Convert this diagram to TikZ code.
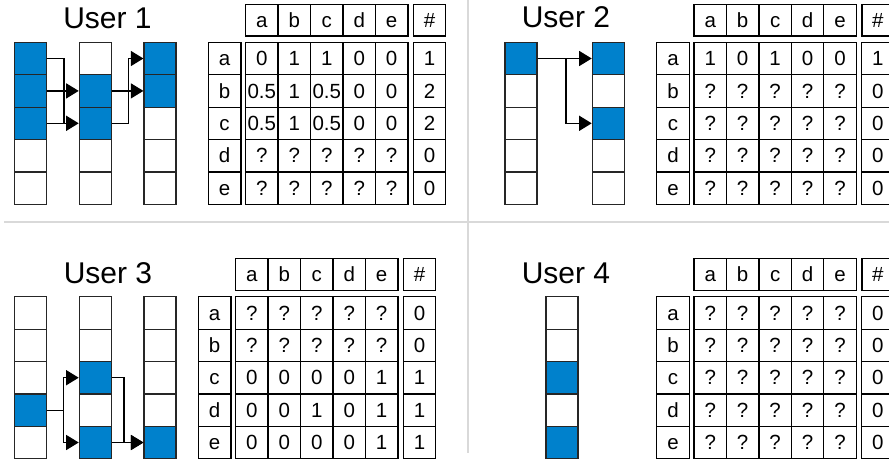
\documentclass[tikz,border=0pt]{standalone}
\usepackage{fontspec}
\setmainfont{Liberation Sans}
\usetikzlibrary{arrows.meta}
\definecolor{ublue}{RGB}{0,129,204}
\definecolor{divgray}{RGB}{217,217,217}
\tikzset{
  scell/.style={draw=black!85, line width=1.2pt, rectangle, inner sep=0pt, minimum width=32pt, minimum height=32.4pt},
  tcell/.style={draw=black, line width=1.2pt, rectangle, inner sep=0pt, minimum width=32.46pt, minimum height=32.4pt,
     font=\fontsize{20.5}{23}\selectfont, text height=14.5pt, text depth=0pt},
  hcell/.style={tcell, minimum height=31.7pt},
  title/.style={font=\fontsize{30}{36}\selectfont, inner sep=0pt, anchor=base},
  line/.style={draw=black, line width=1.2pt},
  conn/.style={line, -{Triangle[length=12.5pt,width=15pt]}},
  divider/.style={draw=divgray, line width=2pt}
}
\newcommand{\stackcol}[4]{%
  \foreach \r in {1,...,5} {\node[scell] (#1\r) at ({#2+16},{#3+32.4*(\r-0.5)}) {};}
  \foreach \r in {#4} {\node[scell,fill=ublue] (#1\r f) at (#1\r) {};}
}
\newcommand{\datatable}[4]{%
  \foreach \h [count=\j] in {a,b,c,d,e} {\node[hcell] (#1h\j) at ({#2+37.3+32.46*(\j-0.5)},{#3-22.15}) {\h};}
  \node[hcell, minimum width=32pt] (#1hs) at ({#2+221.2},{#3-22.15}) {\#};
  \foreach \lab/\vals [count=\i] in {#4} {
    \node[tcell, minimum width=32.6pt] (#1l\i) at ({#2+16.3},{#3+32.4*(\i-0.5)}) {\lab};
    \foreach \v [count=\j] in \vals {
      \pgfmathsetmacro\cx{\j<6 ? (#2+37.3+32.46*(\j-0.5)) : (#2+221.2)}
      \node[tcell] (#1c\i-\j) at (\cx,{#3+32.4*(\i-0.5)}) {\v};
    }
  }
}
\begin{document}
\begin{tikzpicture}[x=1pt,y=-1pt]
\useasboundingbox (0,0) rectangle (889,464);
% dividers
\draw[divider] (4,221.7) -- (889,221.7);
\draw[divider] (468,0) -- (468,453);
% titles
\node[title] (t1) at (107.5,28.3) {User 1};
\node[title] (t2) at (566,27.3) {User 2};
\node[title] (t3) at (108,283) {User 3};
\node[title] (t4) at (566,283) {User 4};
% User 1 stacks
\stackcol{u1a}{14.3}{42.3}{1,2,3}
\stackcol{u1b}{79.3}{42.3}{2,3}
\stackcol{u1c}{144}{42.3}{1,2}
\draw[conn] (u1a1.east) -- ++(17,0) |- (u1b3.west);
\draw[conn] (u1a2.east) -- (u1b2.west);
\draw[line] (u1a3.east) -- ++(17,0);
\draw[conn] (u1b3.east) -- ++(16.4,0) |- (u1c1.west);
\draw[conn] (u1b2.east) -- (u1c2.west);
% User 2 stacks
\stackcol{u2a}{505}{42.3}{1}
\stackcol{u2b}{592.3}{42.3}{1,3}
\draw[conn] (u2a1.east) -- (u2b1.west);
\draw[conn] (u2a1.east) -- ++(28.4,0) |- (u2b3.west);
% User 3 stacks
\stackcol{u3a}{14.3}{296.7}{4}
\stackcol{u3b}{79.3}{296.7}{3,5}
\stackcol{u3c}{144}{296.7}{5}
\draw[conn] (u3a4.east) -- ++(16.4,0) |- (u3b3.west);
\draw[conn] (u3a4.east) -- ++(16.4,0) |- (u3b5.west);
\draw[conn] (u3b3.east) -- ++(12,0) |- (u3c5.west);
\draw[conn] (u3b5.east) -- (u3c5.west);
% User 4 stack
\stackcol{u4a}{546}{296.7}{3,5}
% tables
\datatable{ta}{208.3}{42.3}{a/{0,1,1,0,0,1}, b/{0.5,1,0.5,0,0,2}, c/{0.5,1,0.5,0,0,2}, d/{?,?,?,?,?,0}, e/{?,?,?,?,?,0}}
\datatable{tb}{656.7}{42.3}{a/{1,0,1,0,0,1}, b/{?,?,?,?,?,0}, c/{?,?,?,?,?,0}, d/{?,?,?,?,?,0}, e/{?,?,?,?,?,0}}
\datatable{tc}{198.3}{296.7}{a/{?,?,?,?,?,0}, b/{?,?,?,?,?,0}, c/{0,0,0,0,1,1}, d/{0,0,1,0,1,1}, e/{0,0,0,0,1,1}}
\datatable{td}{656.7}{296.7}{a/{?,?,?,?,?,0}, b/{?,?,?,?,?,0}, c/{?,?,?,?,?,0}, d/{?,?,?,?,?,0}, e/{?,?,?,?,?,0}}
\end{tikzpicture}
\end{document}
